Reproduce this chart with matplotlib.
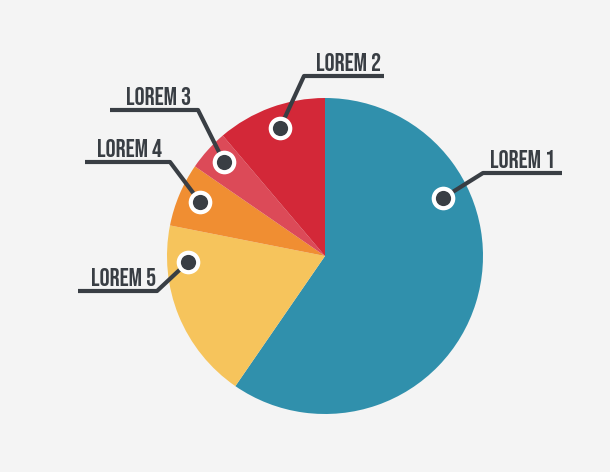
import matplotlib.pyplot as plt

# Data
labels = ['LOREM 1', 'LOREM 2', 'LOREM 3', 'LOREM 4', 'LOREM 5']
values = [59.6, 11.2, 4.2, 6.5, 18.5]
colors = ['#3090AC', '#D32838', '#DC4A58', '#F08E32', '#F6C45C']
# wedge order clockwise from 12 o'clock
order = [0, 4, 3, 2, 1]

# Layout (pixel coords, y from top)
H = 472
center = (325, 256)
radius = 158
markers = [(443, 198), (280, 128), (224, 162), (200, 202), (188, 262)]
corners = [(483, 173), (304, 76), (198, 110), (170, 162), (157, 291)]
ends = [(562, 173), (384, 76), (110, 110), (85, 162), (78, 291)]
text_right = [555, 381, 191, 162, 156]

dark = '#393E44'
bg = '#F4F4F4'

fig = plt.figure(figsize=(6.1, 4.72), dpi=100, facecolor=bg)
ax = fig.add_axes([0, 0, 1, 1])
ax.set_facecolor(bg)

ax.pie([values[i] for i in order], colors=[colors[i] for i in order],
       startangle=90, counterclock=False,
       center=(center[0], H - center[1]), radius=radius,
       wedgeprops=dict(linewidth=0), frame=True)
ax.set_xlim(0, 610)
ax.set_ylim(0, H)
ax.set_aspect('equal')
ax.axis('off')

for lab, m, c, e, tr in zip(labels, markers, corners, ends, text_right):
    xs = [m[0], c[0], e[0]]
    ys = [H - m[1], H - c[1], H - e[1]]
    ax.plot(xs, ys, color=dark, linewidth=3, solid_capstyle='butt', zorder=3)
    ax.scatter([m[0]], [H - m[1]], s=290, color='white', zorder=4, linewidths=0)
    ax.scatter([m[0]], [H - m[1]], s=120, color=dark, zorder=5, linewidths=0)
    ax.text(tr, H - c[1] + 5, lab, ha='right', va='baseline', color=dark,
            fontsize=18, family=['Bebas Neue', 'DejaVu Sans'],
            path_effects=None)

fig.savefig('out.png', dpi=100, facecolor=bg)
